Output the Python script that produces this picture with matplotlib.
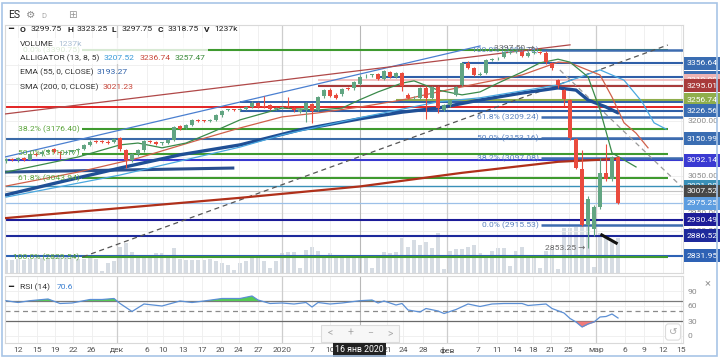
import matplotlib.pyplot as plt
from matplotlib.patches import Rectangle
from matplotlib.ticker import FormatStrFormatter
from matplotlib.transforms import blended_transform_factory

plt.rcParams['font.family'] = ['Roboto', 'DejaVu Sans']

W, H = 720, 358

# Candles, one per session, bar -2 .. 100
first_bar = -2
opens = [3090, 3095, 3092, 3098, 3094, 3110, 3108, 3116, 3123, 3115,
         3113, 3116, 3119, 3122, 3133, 3144, 3143, 3142, 3141, 3153,
         3120, 3093, 3108, 3119, 3145, 3141, 3138, 3139, 3148, 3184,
         3179, 3187, 3201, 3201, 3200, 3203, 3214, 3228, 3229, 3229,
         3231, 3236, 3248, 3240, 3242, 3232, 3235, 3240, 3233, 3224,
         3230, 3246, 3228, 3266, 3284, 3270, 3272, 3288, 3288, 3299.75,
         3320, 3323, 3327, 3313, 3331, 3318, 3329, 3271, 3263, 3262,
         3289, 3262, 3291, 3230, 3242, 3270, 3297, 3357, 3343, 3325,
         3330, 3366, 3369, 3373, 3385, 3386, 3389, 3375, 3383, 3386,
         3384, 3357, 3310, 3283, 3256, 3150, 3068, 2916, 2905, 2965,
         3057, 3040, 3100]
highs = [3097, 3099, 3100, 3101, 3112, 3115, 3119, 3124, 3126, 3118,
         3119, 3121, 3125, 3136, 3146, 3148, 3147, 3146, 3154, 3156,
         3124, 3112, 3122, 3147, 3148, 3144, 3143, 3151, 3186, 3188,
         3190, 3204, 3204, 3203, 3205, 3217, 3230, 3232, 3232, 3233,
         3240, 3252, 3251, 3266, 3245, 3237, 3240, 3263, 3236, 3233,
         3250, 3249, 3268, 3287, 3288, 3274, 3290, 3292, 3307, 3323.25,
         3326, 3327, 3330, 3338, 3334, 3333, 3333, 3275, 3268, 3292,
         3293, 3294, 3295, 3245, 3259, 3294, 3360, 3361, 3347, 3331,
         3368, 3371, 3374, 3389, 3389, 3393, 3392, 3389, 3397.5, 3390,
         3388, 3360, 3314, 3287, 3260, 3154, 3120, 2995, 2970, 3097,
         3137, 3104, 3104]
lows = [3086, 3089, 3088, 3090, 3092, 3104, 3105, 3112, 3112, 3096,
        3108, 3111, 3115, 3119, 3130, 3138, 3139, 3137, 3138, 3118,
        3070, 3088, 3104, 3115, 3138, 3134, 3133, 3136, 3145, 3174,
        3176, 3185, 3196, 3196, 3197, 3200, 3211, 3225, 3225, 3226,
        3228, 3233, 3234, 3233, 3228, 3229, 3231, 3233, 3224, 3220,
        3195, 3193, 3225, 3262, 3264, 3258, 3268, 3282, 3284, 3297.75,
        3316, 3319, 3310, 3310, 3315, 3315, 3280, 3258, 3258, 3258,
        3205, 3258, 3220, 3226, 3238, 3266, 3294, 3340, 3320, 3321,
        3327, 3362, 3365, 3370, 3381, 3383, 3372, 3372, 3380, 3380,
        3355, 3338, 3290, 3240, 3148, 3068, 2913, 2853.25, 2886, 2960,
        3035, 3036, 2973]
closes = [3095, 3092, 3097, 3094, 3110, 3107, 3116, 3121, 3115, 3113,
          3116, 3119, 3122, 3133, 3143, 3142, 3141, 3140, 3150, 3122,
          3093, 3108, 3119, 3144, 3141, 3137, 3139, 3148, 3183, 3178,
          3187, 3201, 3200, 3199, 3203, 3214, 3227, 3229, 3228, 3231,
          3236, 3249, 3238, 3236, 3231, 3235, 3237, 3236, 3228, 3230,
          3247, 3226, 3265, 3284, 3268, 3262, 3287, 3285, 3305, 3318.75,
          3322, 3325, 3313, 3335, 3318, 3330, 3294, 3262, 3264, 3289,
          3262, 3291, 3234, 3242, 3256, 3291, 3357, 3343, 3324, 3328,
          3365, 3368, 3371, 3386, 3386, 3390, 3375, 3385, 3387, 3384,
          3359, 3343, 3297, 3258, 3152, 3071, 2916, 2987, 2965, 3057,
          3040, 3100, 2976]
volumes_k = [1000, 1000, 1080, 1000, 1080, 1155, 1155, 1155, 1237, 1390,
             1237, 1155, 1080, 1080, 1155, 1080, 150, 770, 925, 2000,
             2310, 1620, 1237, 1237, 1155, 1540, 1540, 1390, 1925, 1080,
             1000, 1000, 1000, 1000, 1080, 925, 770, 615, 230, 770,
             925, 1155, 1390, 925, 385, 925, 1540, 1620, 1620, 385,
             1770, 2000, 1695, 1390, 1540, 1237, 1390, 1155, 1390, 1237,
             1237, 385, 1390, 1620, 1540, 1620, 2700, 2000, 2540, 2160,
             2390, 1925, 3080, 310, 1695, 1850, 1850, 2000, 2160, 1540,
             1390, 1695, 1925, 1925, 540, 1695, 2000, 1390, 1237, 385,
             1695, 1850, 310, 3465, 3465, 3540, 3850, 3540, 460, 3080,
             2925, 2390, 2700]

# indicators (bar, value)
ema_bars = [-2, 7, 17, 27, 37, 47, 57, 64, 70, 77, 84, 90, 93, 95, 98, 100]
ema_vals = [2998, 3033, 3071, 3107, 3134, 3175, 3205, 3223, 3234, 3256, 3275, 3289, 3283, 3256, 3237, 3221]
sma_bars = [-2, 17, 37, 57, 74, 90, 100]
sma_vals = [2935, 2962, 2990, 3021, 3058, 3088, 3096]
lips_bars = [-2, 10, 17, 20, 24, 28, 32, 37, 44, 50, 54, 57, 60, 64, 66, 70, 74, 77, 80, 84,
             87, 90, 92, 95, 97, 99, 101, 103]
lips_vals = [3060, 3101, 3134, 3139, 3126, 3139, 3166, 3202, 3234, 3229, 3234, 3257, 3278, 3302,
             3308, 3283, 3270, 3278, 3302, 3332, 3357, 3367, 3359, 3319, 3229, 3112, 3093, 3074]
teeth_bars = [-2, 10, 20, 30, 37, 44, 50, 57, 64, 70, 77, 84, 90, 92, 97, 99, 101, 103, 105]
teeth_vals = [3022, 3060, 3098, 3147, 3180, 3210, 3221, 3237, 3256, 3278, 3302, 3324, 3359, 3357,
              3324, 3264, 3194, 3166, 3126]
jaw_bars = [-2, 17, 37, 44, 57, 70, 77, 90, 97, 101, 104, 106, 108]
jaw_vals = [2992, 3052, 3128, 3161, 3208, 3251, 3262, 3297, 3338, 3310, 3251, 3194, 3177]

rsi_bars = [-2, 0, 2, 5, 7, 9, 12, 14, 16, 17, 19, 21, 24, 27, 29, 31, 34, 37, 39, 40, 42, 44,
            46, 48, 49, 50, 52, 54, 57, 59, 60, 61, 63, 64, 65, 67, 68, 70, 71, 73, 75, 77, 79,
            81, 84, 85, 88, 89, 91, 92, 93, 94, 95, 96, 97, 98, 99, 100]
rsi_vals = [70.6, 67, 70.6, 74, 65, 66, 73, 73, 75, 65, 49, 64, 60, 70, 67, 70, 75, 75, 80, 72,
            65, 66, 64, 67, 58, 67, 64, 66, 70.6, 72, 66, 70, 62, 65, 52, 48, 55, 50, 45, 53,
            64, 59, 64, 65, 65, 61, 64, 55, 46, 35, 28, 18, 24, 28, 38, 39, 44, 36]

# price levels with a label box on the axis
level_prices = [3318.21, 3310.00, 3356.64, 3295.01, 3256.74, 3226.56, 3150.99, 3092.14,
                3021.80, 3007.52, 2975.25, 2930.49, 2886.52, 2831.95]
level_box_colors = ['#3a6db2', '#eeb4b4', '#3a6db2', '#a83a3a', '#8fae4c', '#3a6db2', '#3a6db2',
                    '#3a3ad2', '#3a90b8', '#474747', '#5d9de0', '#1c1c98', '#1e2a9c', '#2e62b5']
level_line_colors = ['#2f5fa8', '#f0b8b8', '#2f5fa8', '#a83a3a', '#8fae4c', '#2f5fa8', '#3a6aa8',
                     '#3838d0', '#3a90b8', '#c4c4c4', '#9cc0e8', '#1c1c98', '#1e2a9c', '#2e62b5']
level_starts = [60, 50, 74, 50, 63, 37, -3, -3, -3, -3, -3, -3, -3, -3]
level_widths = [1.5, 1.2, 1.5, 1.5, 1.5, 1.5, 1.5, 1.5, 1.0, 0.8, 0.9, 1.5, 1.5, 1.5]
plain_prices = [3238.0, 3251.0]
plain_colors = ['#e32222', '#2f5fa8']
plain_starts = [-3, 37]

green_fib_names = ['0.0%', '38.2%', '50.0%', '61.8%', '100.0%']
green_fib_prices = [3390.75, 3176.40, 3110.17, 3043.94, 2829.54]
blue_fib_names = ['100.0%', '61.8%', '50.0%', '38.2%', '0.0%']
blue_fib_prices = [3390.78, 3209.24, 3153.16, 3097.08, 2915.53]

tick_labels = ['12', '15', '19', '22', '26', 'дек', '6', '10', '13', '17', '20', '24', '27',
               '2020', '7', '10', '21', '24', '28', 'фев', '7', '11', '14', '18', '21', '25',
               'мар', '6', '9', '12', '15']
tick_bars = [0, 3.2, 6.2, 9.2, 12.3, 16.5, 21.5, 24.2, 27.5, 30.7, 33.8, 36.8, 40,
             44, 49, 52, 61.5, 64.2, 67.5, 71.5, 76.7, 79.8, 83.2, 85.8, 88.8, 91.8,
             96.3, 101.2, 104.3, 107.5, 110.5]
month_labels = ['дек', '2020', 'фев', 'мар']
cursor_bar = 57


def rect(left, top, right, bottom):
    return [left / W, 1 - bottom / H, (right - left) / W, (bottom - top) / H]


def ftext(px, py, s, **kw):
    kw.setdefault('va', 'center')
    kw.setdefault('fontsize', 6.1)
    return fig.text(px / W, 1 - py / H, s, **kw)


fig = plt.figure(figsize=(W / 100, H / 100), dpi=100)
price_rect = rect(5, 25, 683, 273)
ax_vol = fig.add_axes(price_rect, zorder=0)
ax = fig.add_axes(price_rect, zorder=1)
ax.patch.set_visible(False)
ax_rsi = fig.add_axes(rect(5, 276, 683, 343), zorder=1)

x_lo, x_hi = -2.17, 110.83
bars = list(range(first_bar, first_bar + len(opens)))

# volume
ax_vol.bar(bars, volumes_k, width=0.78, color='#d6dce3')
ax_vol.set_xlim(x_lo, x_hi)
ax_vol.set_ylim(0, 19000)
ax_vol.axis('off')

# grid / axes look
for a in (ax, ax_rsi):
    a.set_xlim(x_lo, x_hi)
    a.set_xticks(tick_bars)
    a.grid(True, color='#eeeeee', lw=0.6)
    a.set_axisbelow(True)
    a.yaxis.tick_right()
    a.tick_params(axis='y', labelsize=6.1, labelcolor='#8a8a8a', length=0, pad=3)
    for s in a.spines.values():
        s.set_color('#d9d9d9')
        s.set_linewidth(0.8)
    for lab in month_labels:
        a.axvline(tick_bars[tick_labels.index(lab)], color='#cdcdcd', lw=0.9, zorder=1)
    a.axvline(cursor_bar, color='#b8b8b8', lw=0.8, zorder=1)

ax.set_ylim(2785.6, 3460)
ax.set_yticks(range(2900, 3351, 50))
ax.yaxis.set_major_formatter(FormatStrFormatter('%.2f'))
ax.tick_params(axis='x', labelbottom=False, length=0)

# horizontal levels
for p, c, st, lw in zip(level_prices, level_line_colors, level_starts, level_widths):
    ax.hlines(p, st, x_hi + 1, color=c, lw=lw, zorder=2)
for p, c, st in zip(plain_prices, plain_colors, plain_starts):
    ax.hlines(p, st, x_hi + 1, color=c, lw=1.4, zorder=2)

# fibonacci sets
for name, p in zip(green_fib_names, green_fib_prices):
    ax.hlines(p, 10.6, 108.3, color='#3f9a2f', lw=1.5, zorder=2)
    ax.text(10.3, p, f'{name} ({p:.2f})', ha='right', va='center', fontsize=6.1,
            color='#5aa43a', zorder=5)
for name, p in zip(blue_fib_names, blue_fib_prices):
    ax.hlines(p, 87.1, x_hi + 1, color='#3d6cb0', lw=1.8, zorder=2)
    ax.text(86.8, p, f'{name} ({p:.2f})', ha='right', va='center', fontsize=6.1,
            color='#5a82bf', zorder=5)

# trend lines
ax.plot([-2.2, 77], [3101, 3403], color='#4a7fd0', lw=0.9, zorder=3)
ax.plot([-2.2, 92], [3218, 3406], color='#b04848', lw=0.9, zorder=3)
ax.plot([10.8, 108.3], [2829.5, 3405.6], color='#555555', lw=0.9, ls=(0, (4, 3)), zorder=3)
ax.plot([90.3, 110.8], [3337.6, 3017], color='#9a9a9a', lw=0.9, ls=(0, (4, 3)), zorder=3)
ax.plot([-2.2, 35.8], [3060, 3071], color='#2a4f8f', lw=2.2, zorder=3)
ax.plot([97.3, 99.7], [2889, 2867], color='#111111', lw=2.2, zorder=5)

# indicators
ax.plot(sma_bars, sma_vals, color='#b0301a', lw=1.6, zorder=3)
ax.plot(ema_bars, ema_vals, color='#1f4f95', lw=2.4, zorder=3, solid_capstyle='round')
ax.plot(jaw_bars, jaw_vals, color='#4aa8e0', lw=0.9, zorder=3)
ax.plot(teeth_bars, teeth_vals, color='#d0604a', lw=0.9, zorder=3)
ax.plot(lips_bars, lips_vals, color='#3a8a4a', lw=0.9, zorder=3)

# candles
up_color, down_color = '#62a582', '#ea4b3e'
cols = [up_color if c >= o else down_color for o, c in zip(opens, closes)]
ax.vlines(bars, lows, highs, colors=cols, lw=0.8, zorder=4)
ax.bar(bars, [max(abs(c - o), 2.5) for o, c in zip(opens, closes)],
       bottom=[min(o, c) for o, c in zip(opens, closes)], width=0.62, color=cols, zorder=4)

ax.text(86.0, 3397.5, '3397.50 →', ha='right', va='center', fontsize=6.1, color='#666666', zorder=5)
ax.text(94.6, 2853.25, '2853.25 →', ha='right', va='center', fontsize=6.1, color='#666666', zorder=5)

# axis label boxes
trans = blended_transform_factory(ax.transAxes, ax.transData)
box_h = 13 * (3460 - 2785.6) / 248
for i, (p, c) in enumerate(zip(level_prices, level_box_colors)):
    ax.add_patch(Rectangle((1.0015, p - box_h / 2), 0.06, box_h, transform=trans,
                           fc=c, ec='none', clip_on=False, zorder=10 + i))
    ax.text(1.0015 + 2.5 / 678, p, f'{p:.2f}', transform=trans, ha='left', va='center',
            fontsize=6.1, color='white', clip_on=False, zorder=10 + i)

# RSI panel
ax_rsi.set_ylim(-14, 120)
ax_rsi.set_yticks([0, 30, 60, 90])
ax_rsi.axhline(70, color='#7a7a7a', lw=0.9, zorder=2)
ax_rsi.axhline(50, color='#8a8a8a', lw=0.9, ls=(0, (4, 3)), zorder=2)
ax_rsi.axhline(30, color='#6a6a6a', lw=0.9, zorder=2)
ax_rsi.fill_between(rsi_bars, rsi_vals, 70, where=[v > 70 for v in rsi_vals], interpolate=True,
                    color='#55cc55', lw=0, zorder=2)
ax_rsi.fill_between(rsi_bars, rsi_vals, 30, where=[v < 30 for v in rsi_vals], interpolate=True,
                    color='#f07a7a', lw=0, zorder=2)
ax_rsi.plot(rsi_bars, rsi_vals, color='#5b8fd5', lw=0.9, zorder=3)
ax_rsi.set_xticks(tick_bars, tick_labels)
ax_rsi.tick_params(axis='x', labelsize=6.1, labelcolor='#555555', length=0, pad=3)

# header / legend
fig.add_artist(Rectangle((18 / W, 1 - 64 / H), 190 / W, 26 / H, transform=fig.transFigure,
                         fc='white', ec='none', alpha=0.8, zorder=2))
ftext(8, 15, 'ES', fontsize=7.5, color='#222222')
ftext(26, 15, '⚙', fontsize=7.5, color='#8a8a8a')
ftext(41, 16, 'D', fontsize=5.5, color='#aaaaaa')
ftext(68, 15, '⊞', fontsize=7.5, color='#999999')

ftext(8, 29, '━', color='#222222')
for px, s, bold in [(20, 'O', True), (31, '3299.75', False), (67, 'H', True), (77, '3323.25', False),
                    (112, 'L', True), (122, '3297.75', False), (158, 'C', True),
                    (168, '3318.75', False), (204, 'V', True), (214, '1237k', False)]:
    ftext(px, 29, s, color='#222222', fontweight='bold' if bold else 'normal')
ftext(20, 44, 'VOLUME', color='#333333')
ftext(58, 44, '1237k', color='#a9bdd3')
ftext(20, 58, 'ALLIGATOR (13, 8, 5)', color='#333333')
ftext(104, 58, '3207.52', color='#3a9ad9')
ftext(140, 58, '3236.74', color='#c8463a')
ftext(175, 58, '3257.47', color='#3a8a3a')
ftext(20, 72, 'EMA (55, 0, CLOSE)', color='#333333')
ftext(97, 72, '3193.27', color='#2d5fa8')
ftext(20, 87, 'SMA (200, 0, CLOSE)', color='#333333')
ftext(103, 87, '3021.23', color='#c8463a')

ftext(8, 287, '━', color='#222222')
ftext(20, 287, 'RSI (14)', color='#333333')
ftext(57, 287, '70.6', color='#3a7fd0')
ftext(708, 283, '×', fontsize=8, color='#999999', ha='center')

# navigation buttons and cursor date
fig.add_artist(Rectangle((321 / W, 1 - 342 / H), 78 / W, 17 / H, transform=fig.transFigure,
                         fc='#f7f7f7', ec='#dcdcdc', lw=0.8, zorder=4))
for px, s in [(330, '<'), (350, '+'), (370, '−'), (390, '>')]:
    ftext(px, 333, s, fontsize=7.5, color='#aaaaaa', ha='center', zorder=5)
ftext(673, 332, '↺', fontsize=7.5, color='#aaaaaa', ha='center',
      bbox=dict(boxstyle='round,pad=0.3', fc='white', ec='#dcdcdc', lw=0.8))
ftext(359, 350, '16 янв 2020', fontsize=6.3, color='white', ha='center', zorder=6,
      bbox=dict(boxstyle='square,pad=0.25', fc='#222222', ec='none'))

fig.add_artist(Rectangle((2 / W, 2 / H), 715 / W, 353 / H, transform=fig.transFigure,
                         fc='none', ec='#a8c5e6', lw=1.2, zorder=7))

fig.savefig('out.png', dpi=100)
